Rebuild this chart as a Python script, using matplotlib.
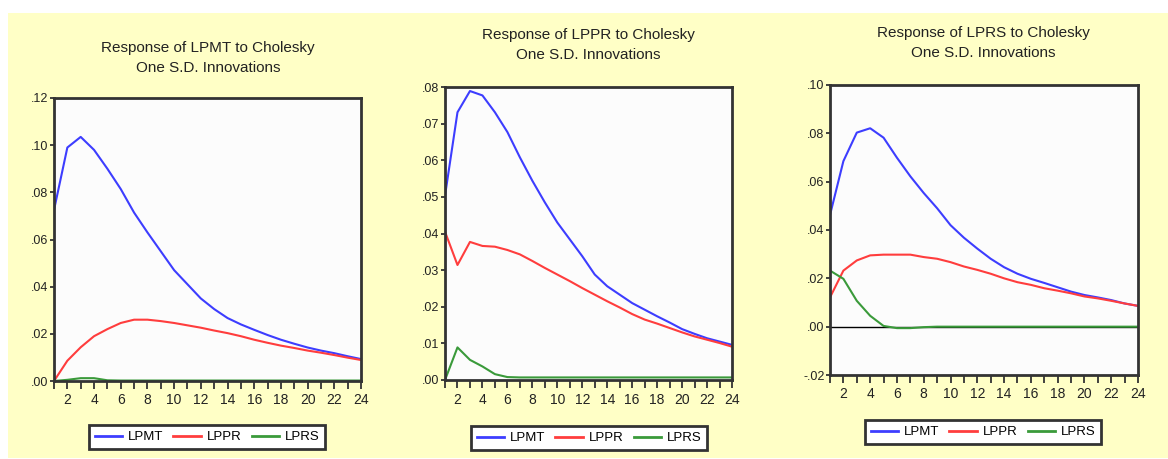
import matplotlib
matplotlib.use('Agg')
import matplotlib.pyplot as plt
from matplotlib.ticker import FixedLocator, FuncFormatter

plt.rcParams['font.family'] = ['Liberation Sans Narrow', 'Liberation Sans', 'DejaVu Sans']

periods = list(range(1, 25))

# Response of LPMT
lpmt_1 = [0.0725, 0.099, 0.1035, 0.098, 0.090, 0.0814, 0.0714, 0.063, 0.055, 0.047, 0.041, 0.035,
          0.0305, 0.0267, 0.024, 0.0217, 0.0195, 0.0175, 0.0158, 0.0142, 0.0129, 0.0118, 0.0105, 0.0093]
lppr_1 = [0.0, 0.0086, 0.0143, 0.019, 0.022, 0.0246, 0.026, 0.026, 0.0254, 0.0246, 0.0236, 0.0226,
          0.0214, 0.0203, 0.019, 0.0175, 0.0162, 0.015, 0.014, 0.0129, 0.012, 0.011, 0.0099, 0.0089]
lprs_1 = [0.0, 0.0005, 0.0012, 0.0012, 0.0003, 0.0002, 0.0002, 0.0002, 0.0002, 0.0002, 0.0002, 0.0002,
          0.0002, 0.0002, 0.0002, 0.0002, 0.0002, 0.0002, 0.0002, 0.0002, 0.0002, 0.0002, 0.0002, 0.0002]

# Response of LPPR
lpmt_2 = [0.0503, 0.0731, 0.0789, 0.0777, 0.0731, 0.0677, 0.0608, 0.0544, 0.0485, 0.043, 0.0384, 0.0338,
          0.0288, 0.0256, 0.0233, 0.021, 0.0192, 0.0174, 0.0157, 0.0139, 0.0126, 0.0114, 0.0105, 0.0096]
lppr_2 = [0.0405, 0.0314, 0.0377, 0.0366, 0.0364, 0.0355, 0.0343, 0.0325, 0.0306, 0.0288, 0.027, 0.0251,
          0.0233, 0.0215, 0.0198, 0.018, 0.0165, 0.0154, 0.0142, 0.013, 0.0119, 0.011, 0.0101, 0.0091]
lprs_2 = [0.0, 0.0089, 0.0055, 0.0037, 0.0016, 0.0008, 0.0007, 0.0007, 0.0007, 0.0007, 0.0007, 0.0007,
          0.0007, 0.0007, 0.0007, 0.0007, 0.0007, 0.0007, 0.0007, 0.0007, 0.0007, 0.0007, 0.0007, 0.0007]

# Response of LPRS
lpmt_3 = [0.0462, 0.0685, 0.0803, 0.0821, 0.0782, 0.0699, 0.0622, 0.0553, 0.049, 0.042, 0.0368, 0.0323,
          0.0281, 0.0246, 0.0219, 0.0198, 0.0181, 0.0163, 0.0145, 0.0131, 0.0121, 0.011, 0.0096, 0.0086]
lppr_3 = [0.0121, 0.0232, 0.0274, 0.0295, 0.0298, 0.0298, 0.0298, 0.0288, 0.0281, 0.0267, 0.0249, 0.0235,
          0.0219, 0.0200, 0.0184, 0.0173, 0.0159, 0.0149, 0.0138, 0.0125, 0.0117, 0.0107, 0.0096, 0.0086]
lprs_3 = [0.0232, 0.0198, 0.0107, 0.0045, 0.0003, -0.0006, -0.0006, -0.0002, 0.0, 0.0, 0.0, 0.0,
          0.0, 0.0, 0.0, 0.0, 0.0, 0.0, 0.0, 0.0, 0.0, 0.0, 0.0, 0.0]

titles = ['Response of LPMT to Cholesky\nOne S.D. Innovations',
          'Response of LPPR to Cholesky\nOne S.D. Innovations',
          'Response of LPRS to Cholesky\nOne S.D. Innovations']
series_names = ['LPMT', 'LPPR', 'LPRS']
colors = ['#3d3dff', '#ff3d3d', '#3a9a3a']
panels = [(lpmt_1, lppr_1, lprs_1), (lpmt_2, lppr_2, lprs_2), (lpmt_3, lppr_3, lprs_3)]
ylims = [(0, 0.12), (0, 0.08), (-0.02, 0.10)]
ysteps = [0.02, 0.01, 0.02]

W, H = 1168, 459
# pixel boxes: left, top, right, bottom
ax_boxes = [(54, 98, 361, 381), (445, 87, 732, 380), (830, 85, 1138, 375)]
title_pos = [(208, 58), (588, 45), (983, 43)]
legend_pos = [(207, 437), (589, 438), (983, 432)]

fig = plt.figure(figsize=(W / 100, H / 100), dpi=100)
fig.patch.set_facecolor('white')
fig.add_artist(plt.Rectangle((8 / W, 1 - 458 / H), 1 - 8 / W, (458 - 13) / H,
                             transform=fig.transFigure, facecolor='#ffffc6', edgecolor='none', zorder=0))


def fmt(v, pos):
    s = f'{v:.2f}'
    return s.replace('0.', '.', 1)


for i, (box, data) in enumerate(zip(ax_boxes, panels)):
    l, t, r, b = box
    ax = fig.add_axes([l / W, 1 - b / H, (r - l) / W, (b - t) / H])
    ax.set_facecolor('#fcfcfc')
    if i == 2:
        ax.axhline(0, color='black', lw=1.0, zorder=1)
    lines = []
    for vals, c, name in zip(data, colors, series_names):
        ln, = ax.plot(periods, vals, color=c, lw=1.5, label=name, zorder=2)
        lines.append(ln)
    ax.set_xlim(1, 24)
    ax.set_ylim(*ylims[i])
    lo, hi = ylims[i]
    n = int(round((hi - lo) / ysteps[i]))
    ax.yaxis.set_major_locator(FixedLocator([lo + k * ysteps[i] for k in range(n + 1)]))
    ax.yaxis.set_major_formatter(FuncFormatter(fmt))
    ax.xaxis.set_major_locator(FixedLocator(list(range(2, 25, 2))))
    ax.xaxis.set_minor_locator(FixedLocator(list(range(1, 25, 2))))
    ax.tick_params(axis='x', which='both', direction='out', length=6, width=1.3, color='#333333',
                   labelsize=10, pad=3, labelcolor='#222222')
    ax.tick_params(axis='y', which='major', direction='out', length=3, width=1.3, color='#333333',
                   labelsize=9, pad=1, labelcolor='#222222')
    for sp in ax.spines.values():
        sp.set_color('#333333')
        sp.set_linewidth(2)
    tx, ty = title_pos[i]
    fig.text(tx / W, 1 - ty / H, titles[i], ha='center', va='center', fontsize=11,
             linespacing=1.5, color='#222222')
    lx, ly = legend_pos[i]
    leg = fig.legend(handles=lines, loc='center', bbox_to_anchor=(lx / W, 1 - ly / H), ncol=3,
                     fontsize=9.5, frameon=True, fancybox=False, handlelength=2.1,
                     columnspacing=0.8, handletextpad=0.4, borderpad=0.45, borderaxespad=0)
    leg.get_frame().set_edgecolor('#333333')
    leg.get_frame().set_linewidth(2)
    leg.get_frame().set_facecolor('white')
    leg.get_frame().set_alpha(1)
    for legline in leg.get_lines():
        legline.set_linewidth(2)

fig.savefig('out.png', dpi=100, facecolor=fig.get_facecolor())
